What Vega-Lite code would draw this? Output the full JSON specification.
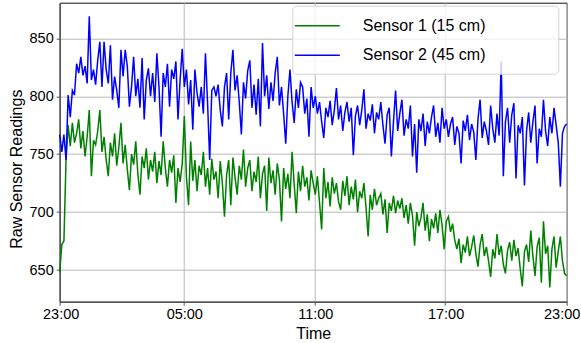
{
"$schema": "https://vega.github.io/schema/vega-lite/v6.json",
"width": 507,
"height": 299,
"autosize": {"type": "none"},
"padding": {"left": 59.7, "top": 2.7, "right": 14.3, "bottom": 41.3},
"background": "white",
"config": {"font": "Liberation Sans", "view": {"stroke": "#111", "strokeWidth": 1}},
"data": {"values": [
{"i":0,"Sensor 1 (15 cm)":648,"Sensor 2 (45 cm)":767},
{"i":1,"Sensor 1 (15 cm)":672,"Sensor 2 (45 cm)":752},
{"i":2,"Sensor 1 (15 cm)":675,"Sensor 2 (45 cm)":767},
{"i":3,"Sensor 1 (15 cm)":745,"Sensor 2 (45 cm)":745},
{"i":4,"Sensor 1 (15 cm)":775,"Sensor 2 (45 cm)":801},
{"i":5,"Sensor 1 (15 cm)":757,"Sensor 2 (45 cm)":782},
{"i":6,"Sensor 1 (15 cm)":777,"Sensor 2 (45 cm)":805},
{"i":7,"Sensor 1 (15 cm)":760,"Sensor 2 (45 cm)":801},
{"i":8,"Sensor 1 (15 cm)":768,"Sensor 2 (45 cm)":828},
{"i":9,"Sensor 1 (15 cm)":780,"Sensor 2 (45 cm)":820},
{"i":10,"Sensor 1 (15 cm)":755,"Sensor 2 (45 cm)":834},
{"i":11,"Sensor 1 (15 cm)":770,"Sensor 2 (45 cm)":818},
{"i":12,"Sensor 1 (15 cm)":748,"Sensor 2 (45 cm)":826},
{"i":13,"Sensor 1 (15 cm)":765,"Sensor 2 (45 cm)":811},
{"i":14,"Sensor 1 (15 cm)":788,"Sensor 2 (45 cm)":869},
{"i":15,"Sensor 1 (15 cm)":731,"Sensor 2 (45 cm)":814},
{"i":16,"Sensor 1 (15 cm)":762,"Sensor 2 (45 cm)":823},
{"i":17,"Sensor 1 (15 cm)":758,"Sensor 2 (45 cm)":810},
{"i":18,"Sensor 1 (15 cm)":770,"Sensor 2 (45 cm)":831},
{"i":19,"Sensor 1 (15 cm)":788,"Sensor 2 (45 cm)":847},
{"i":20,"Sensor 1 (15 cm)":752,"Sensor 2 (45 cm)":808},
{"i":21,"Sensor 1 (15 cm)":765,"Sensor 2 (45 cm)":847},
{"i":22,"Sensor 1 (15 cm)":745,"Sensor 2 (45 cm)":823},
{"i":23,"Sensor 1 (15 cm)":731,"Sensor 2 (45 cm)":811},
{"i":24,"Sensor 1 (15 cm)":760,"Sensor 2 (45 cm)":844},
{"i":25,"Sensor 1 (15 cm)":748,"Sensor 2 (45 cm)":797},
{"i":26,"Sensor 1 (15 cm)":768,"Sensor 2 (45 cm)":817},
{"i":27,"Sensor 1 (15 cm)":740,"Sensor 2 (45 cm)":805},
{"i":28,"Sensor 1 (15 cm)":756,"Sensor 2 (45 cm)":790},
{"i":29,"Sensor 1 (15 cm)":777,"Sensor 2 (45 cm)":840},
{"i":30,"Sensor 1 (15 cm)":742,"Sensor 2 (45 cm)":817},
{"i":31,"Sensor 1 (15 cm)":758,"Sensor 2 (45 cm)":840},
{"i":32,"Sensor 1 (15 cm)":737,"Sensor 2 (45 cm)":826},
{"i":33,"Sensor 1 (15 cm)":719,"Sensor 2 (45 cm)":791},
{"i":34,"Sensor 1 (15 cm)":750,"Sensor 2 (45 cm)":808},
{"i":35,"Sensor 1 (15 cm)":741,"Sensor 2 (45 cm)":834},
{"i":36,"Sensor 1 (15 cm)":761,"Sensor 2 (45 cm)":800},
{"i":37,"Sensor 1 (15 cm)":733,"Sensor 2 (45 cm)":815},
{"i":38,"Sensor 1 (15 cm)":715,"Sensor 2 (45 cm)":790},
{"i":39,"Sensor 1 (15 cm)":748,"Sensor 2 (45 cm)":833},
{"i":40,"Sensor 1 (15 cm)":738,"Sensor 2 (45 cm)":780},
{"i":41,"Sensor 1 (15 cm)":755,"Sensor 2 (45 cm)":814},
{"i":42,"Sensor 1 (15 cm)":728,"Sensor 2 (45 cm)":824},
{"i":43,"Sensor 1 (15 cm)":745,"Sensor 2 (45 cm)":800},
{"i":44,"Sensor 1 (15 cm)":735,"Sensor 2 (45 cm)":820},
{"i":45,"Sensor 1 (15 cm)":752,"Sensor 2 (45 cm)":795},
{"i":46,"Sensor 1 (15 cm)":725,"Sensor 2 (45 cm)":837},
{"i":47,"Sensor 1 (15 cm)":744,"Sensor 2 (45 cm)":808},
{"i":48,"Sensor 1 (15 cm)":732,"Sensor 2 (45 cm)":765},
{"i":49,"Sensor 1 (15 cm)":761,"Sensor 2 (45 cm)":820},
{"i":50,"Sensor 1 (15 cm)":738,"Sensor 2 (45 cm)":808},
{"i":51,"Sensor 1 (15 cm)":722,"Sensor 2 (45 cm)":828},
{"i":52,"Sensor 1 (15 cm)":745,"Sensor 2 (45 cm)":791},
{"i":53,"Sensor 1 (15 cm)":734,"Sensor 2 (45 cm)":823},
{"i":54,"Sensor 1 (15 cm)":749,"Sensor 2 (45 cm)":815},
{"i":55,"Sensor 1 (15 cm)":708,"Sensor 2 (45 cm)":830},
{"i":56,"Sensor 1 (15 cm)":738,"Sensor 2 (45 cm)":780},
{"i":57,"Sensor 1 (15 cm)":726,"Sensor 2 (45 cm)":814},
{"i":58,"Sensor 1 (15 cm)":742,"Sensor 2 (45 cm)":841},
{"i":59,"Sensor 1 (15 cm)":783,"Sensor 2 (45 cm)":808},
{"i":60,"Sensor 1 (15 cm)":730,"Sensor 2 (45 cm)":823},
{"i":61,"Sensor 1 (15 cm)":706,"Sensor 2 (45 cm)":793},
{"i":62,"Sensor 1 (15 cm)":761,"Sensor 2 (45 cm)":814},
{"i":63,"Sensor 1 (15 cm)":727,"Sensor 2 (45 cm)":771},
{"i":64,"Sensor 1 (15 cm)":745,"Sensor 2 (45 cm)":823},
{"i":65,"Sensor 1 (15 cm)":718,"Sensor 2 (45 cm)":803},
{"i":66,"Sensor 1 (15 cm)":740,"Sensor 2 (45 cm)":791},
{"i":67,"Sensor 1 (15 cm)":732,"Sensor 2 (45 cm)":808},
{"i":68,"Sensor 1 (15 cm)":752,"Sensor 2 (45 cm)":785},
{"i":69,"Sensor 1 (15 cm)":722,"Sensor 2 (45 cm)":837},
{"i":70,"Sensor 1 (15 cm)":738,"Sensor 2 (45 cm)":794},
{"i":71,"Sensor 1 (15 cm)":715,"Sensor 2 (45 cm)":745},
{"i":72,"Sensor 1 (15 cm)":746,"Sensor 2 (45 cm)":805},
{"i":73,"Sensor 1 (15 cm)":728,"Sensor 2 (45 cm)":808},
{"i":74,"Sensor 1 (15 cm)":735,"Sensor 2 (45 cm)":800},
{"i":75,"Sensor 1 (15 cm)":712,"Sensor 2 (45 cm)":810},
{"i":76,"Sensor 1 (15 cm)":744,"Sensor 2 (45 cm)":788},
{"i":77,"Sensor 1 (15 cm)":725,"Sensor 2 (45 cm)":774},
{"i":78,"Sensor 1 (15 cm)":696,"Sensor 2 (45 cm)":808},
{"i":79,"Sensor 1 (15 cm)":732,"Sensor 2 (45 cm)":820},
{"i":80,"Sensor 1 (15 cm)":745,"Sensor 2 (45 cm)":780},
{"i":81,"Sensor 1 (15 cm)":706,"Sensor 2 (45 cm)":820},
{"i":82,"Sensor 1 (15 cm)":747,"Sensor 2 (45 cm)":840},
{"i":83,"Sensor 1 (15 cm)":730,"Sensor 2 (45 cm)":805},
{"i":84,"Sensor 1 (15 cm)":715,"Sensor 2 (45 cm)":818},
{"i":85,"Sensor 1 (15 cm)":740,"Sensor 2 (45 cm)":795},
{"i":86,"Sensor 1 (15 cm)":728,"Sensor 2 (45 cm)":767},
{"i":87,"Sensor 1 (15 cm)":754,"Sensor 2 (45 cm)":812},
{"i":88,"Sensor 1 (15 cm)":722,"Sensor 2 (45 cm)":798},
{"i":89,"Sensor 1 (15 cm)":738,"Sensor 2 (45 cm)":822},
{"i":90,"Sensor 1 (15 cm)":745,"Sensor 2 (45 cm)":831},
{"i":91,"Sensor 1 (15 cm)":718,"Sensor 2 (45 cm)":790},
{"i":92,"Sensor 1 (15 cm)":735,"Sensor 2 (45 cm)":810},
{"i":93,"Sensor 1 (15 cm)":726,"Sensor 2 (45 cm)":784},
{"i":94,"Sensor 1 (15 cm)":748,"Sensor 2 (45 cm)":815},
{"i":95,"Sensor 1 (15 cm)":712,"Sensor 2 (45 cm)":774},
{"i":96,"Sensor 1 (15 cm)":733,"Sensor 2 (45 cm)":846},
{"i":97,"Sensor 1 (15 cm)":740,"Sensor 2 (45 cm)":800},
{"i":98,"Sensor 1 (15 cm)":701,"Sensor 2 (45 cm)":818},
{"i":99,"Sensor 1 (15 cm)":747,"Sensor 2 (45 cm)":789},
{"i":100,"Sensor 1 (15 cm)":725,"Sensor 2 (45 cm)":812},
{"i":101,"Sensor 1 (15 cm)":736,"Sensor 2 (45 cm)":796},
{"i":102,"Sensor 1 (15 cm)":715,"Sensor 2 (45 cm)":820},
{"i":103,"Sensor 1 (15 cm)":742,"Sensor 2 (45 cm)":834},
{"i":104,"Sensor 1 (15 cm)":728,"Sensor 2 (45 cm)":792},
{"i":105,"Sensor 1 (15 cm)":692,"Sensor 2 (45 cm)":808},
{"i":106,"Sensor 1 (15 cm)":738,"Sensor 2 (45 cm)":785},
{"i":107,"Sensor 1 (15 cm)":720,"Sensor 2 (45 cm)":759},
{"i":108,"Sensor 1 (15 cm)":733,"Sensor 2 (45 cm)":800},
{"i":109,"Sensor 1 (15 cm)":712,"Sensor 2 (45 cm)":823},
{"i":110,"Sensor 1 (15 cm)":752,"Sensor 2 (45 cm)":795},
{"i":111,"Sensor 1 (15 cm)":724,"Sensor 2 (45 cm)":777},
{"i":112,"Sensor 1 (15 cm)":699,"Sensor 2 (45 cm)":806},
{"i":113,"Sensor 1 (15 cm)":735,"Sensor 2 (45 cm)":790},
{"i":114,"Sensor 1 (15 cm)":718,"Sensor 2 (45 cm)":812},
{"i":115,"Sensor 1 (15 cm)":740,"Sensor 2 (45 cm)":808},
{"i":116,"Sensor 1 (15 cm)":722,"Sensor 2 (45 cm)":785},
{"i":117,"Sensor 1 (15 cm)":730,"Sensor 2 (45 cm)":798},
{"i":118,"Sensor 1 (15 cm)":710,"Sensor 2 (45 cm)":765},
{"i":119,"Sensor 1 (15 cm)":736,"Sensor 2 (45 cm)":808},
{"i":120,"Sensor 1 (15 cm)":725,"Sensor 2 (45 cm)":790},
{"i":121,"Sensor 1 (15 cm)":715,"Sensor 2 (45 cm)":800},
{"i":122,"Sensor 1 (15 cm)":731,"Sensor 2 (45 cm)":785},
{"i":123,"Sensor 1 (15 cm)":708,"Sensor 2 (45 cm)":795},
{"i":124,"Sensor 1 (15 cm)":685,"Sensor 2 (45 cm)":778},
{"i":125,"Sensor 1 (15 cm)":738,"Sensor 2 (45 cm)":764},
{"i":126,"Sensor 1 (15 cm)":712,"Sensor 2 (45 cm)":790},
{"i":127,"Sensor 1 (15 cm)":726,"Sensor 2 (45 cm)":782},
{"i":128,"Sensor 1 (15 cm)":705,"Sensor 2 (45 cm)":796},
{"i":129,"Sensor 1 (15 cm)":730,"Sensor 2 (45 cm)":775},
{"i":130,"Sensor 1 (15 cm)":716,"Sensor 2 (45 cm)":788},
{"i":131,"Sensor 1 (15 cm)":725,"Sensor 2 (45 cm)":807},
{"i":132,"Sensor 1 (15 cm)":709,"Sensor 2 (45 cm)":780},
{"i":133,"Sensor 1 (15 cm)":702,"Sensor 2 (45 cm)":792},
{"i":134,"Sensor 1 (15 cm)":727,"Sensor 2 (45 cm)":770},
{"i":135,"Sensor 1 (15 cm)":714,"Sensor 2 (45 cm)":786},
{"i":136,"Sensor 1 (15 cm)":731,"Sensor 2 (45 cm)":795},
{"i":137,"Sensor 1 (15 cm)":706,"Sensor 2 (45 cm)":778},
{"i":138,"Sensor 1 (15 cm)":722,"Sensor 2 (45 cm)":790},
{"i":139,"Sensor 1 (15 cm)":711,"Sensor 2 (45 cm)":749},
{"i":140,"Sensor 1 (15 cm)":728,"Sensor 2 (45 cm)":783},
{"i":141,"Sensor 1 (15 cm)":700,"Sensor 2 (45 cm)":792},
{"i":142,"Sensor 1 (15 cm)":718,"Sensor 2 (45 cm)":775},
{"i":143,"Sensor 1 (15 cm)":712,"Sensor 2 (45 cm)":788},
{"i":144,"Sensor 1 (15 cm)":725,"Sensor 2 (45 cm)":806},
{"i":145,"Sensor 1 (15 cm)":704,"Sensor 2 (45 cm)":772},
{"i":146,"Sensor 1 (15 cm)":679,"Sensor 2 (45 cm)":785},
{"i":147,"Sensor 1 (15 cm)":715,"Sensor 2 (45 cm)":779},
{"i":148,"Sensor 1 (15 cm)":702,"Sensor 2 (45 cm)":793},
{"i":149,"Sensor 1 (15 cm)":720,"Sensor 2 (45 cm)":768},
{"i":150,"Sensor 1 (15 cm)":706,"Sensor 2 (45 cm)":786},
{"i":151,"Sensor 1 (15 cm)":712,"Sensor 2 (45 cm)":780},
{"i":152,"Sensor 1 (15 cm)":716,"Sensor 2 (45 cm)":795},
{"i":153,"Sensor 1 (15 cm)":698,"Sensor 2 (45 cm)":775},
{"i":154,"Sensor 1 (15 cm)":711,"Sensor 2 (45 cm)":759},
{"i":155,"Sensor 1 (15 cm)":682,"Sensor 2 (45 cm)":784},
{"i":156,"Sensor 1 (15 cm)":708,"Sensor 2 (45 cm)":790},
{"i":157,"Sensor 1 (15 cm)":701,"Sensor 2 (45 cm)":748},
{"i":158,"Sensor 1 (15 cm)":714,"Sensor 2 (45 cm)":778},
{"i":159,"Sensor 1 (15 cm)":699,"Sensor 2 (45 cm)":805},
{"i":160,"Sensor 1 (15 cm)":710,"Sensor 2 (45 cm)":770},
{"i":161,"Sensor 1 (15 cm)":703,"Sensor 2 (45 cm)":785},
{"i":162,"Sensor 1 (15 cm)":712,"Sensor 2 (45 cm)":797},
{"i":163,"Sensor 1 (15 cm)":695,"Sensor 2 (45 cm)":766},
{"i":164,"Sensor 1 (15 cm)":706,"Sensor 2 (45 cm)":780},
{"i":165,"Sensor 1 (15 cm)":690,"Sensor 2 (45 cm)":772},
{"i":166,"Sensor 1 (15 cm)":708,"Sensor 2 (45 cm)":792},
{"i":167,"Sensor 1 (15 cm)":697,"Sensor 2 (45 cm)":748},
{"i":168,"Sensor 1 (15 cm)":671,"Sensor 2 (45 cm)":776},
{"i":169,"Sensor 1 (15 cm)":700,"Sensor 2 (45 cm)":734},
{"i":170,"Sensor 1 (15 cm)":688,"Sensor 2 (45 cm)":780},
{"i":171,"Sensor 1 (15 cm)":695,"Sensor 2 (45 cm)":770},
{"i":172,"Sensor 1 (15 cm)":708,"Sensor 2 (45 cm)":785},
{"i":173,"Sensor 1 (15 cm)":684,"Sensor 2 (45 cm)":757},
{"i":174,"Sensor 1 (15 cm)":698,"Sensor 2 (45 cm)":778},
{"i":175,"Sensor 1 (15 cm)":675,"Sensor 2 (45 cm)":768},
{"i":176,"Sensor 1 (15 cm)":694,"Sensor 2 (45 cm)":782},
{"i":177,"Sensor 1 (15 cm)":686,"Sensor 2 (45 cm)":792},
{"i":178,"Sensor 1 (15 cm)":699,"Sensor 2 (45 cm)":765},
{"i":179,"Sensor 1 (15 cm)":682,"Sensor 2 (45 cm)":777},
{"i":180,"Sensor 1 (15 cm)":702,"Sensor 2 (45 cm)":760},
{"i":181,"Sensor 1 (15 cm)":689,"Sensor 2 (45 cm)":790},
{"i":182,"Sensor 1 (15 cm)":668,"Sensor 2 (45 cm)":772},
{"i":183,"Sensor 1 (15 cm)":692,"Sensor 2 (45 cm)":780},
{"i":184,"Sensor 1 (15 cm)":696,"Sensor 2 (45 cm)":765},
{"i":185,"Sensor 1 (15 cm)":683,"Sensor 2 (45 cm)":776},
{"i":186,"Sensor 1 (15 cm)":690,"Sensor 2 (45 cm)":782},
{"i":187,"Sensor 1 (15 cm)":676,"Sensor 2 (45 cm)":758},
{"i":188,"Sensor 1 (15 cm)":668,"Sensor 2 (45 cm)":774},
{"i":189,"Sensor 1 (15 cm)":677,"Sensor 2 (45 cm)":768},
{"i":190,"Sensor 1 (15 cm)":656,"Sensor 2 (45 cm)":742},
{"i":191,"Sensor 1 (15 cm)":672,"Sensor 2 (45 cm)":779},
{"i":192,"Sensor 1 (15 cm)":665,"Sensor 2 (45 cm)":770},
{"i":193,"Sensor 1 (15 cm)":679,"Sensor 2 (45 cm)":784},
{"i":194,"Sensor 1 (15 cm)":662,"Sensor 2 (45 cm)":762},
{"i":195,"Sensor 1 (15 cm)":670,"Sensor 2 (45 cm)":776},
{"i":196,"Sensor 1 (15 cm)":680,"Sensor 2 (45 cm)":769},
{"i":197,"Sensor 1 (15 cm)":664,"Sensor 2 (45 cm)":745},
{"i":198,"Sensor 1 (15 cm)":653,"Sensor 2 (45 cm)":780},
{"i":199,"Sensor 1 (15 cm)":672,"Sensor 2 (45 cm)":797},
{"i":200,"Sensor 1 (15 cm)":681,"Sensor 2 (45 cm)":764},
{"i":201,"Sensor 1 (15 cm)":662,"Sensor 2 (45 cm)":778},
{"i":202,"Sensor 1 (15 cm)":670,"Sensor 2 (45 cm)":770},
{"i":203,"Sensor 1 (15 cm)":658,"Sensor 2 (45 cm)":758},
{"i":204,"Sensor 1 (15 cm)":644,"Sensor 2 (45 cm)":792},
{"i":205,"Sensor 1 (15 cm)":668,"Sensor 2 (45 cm)":772},
{"i":206,"Sensor 1 (15 cm)":660,"Sensor 2 (45 cm)":760},
{"i":207,"Sensor 1 (15 cm)":681,"Sensor 2 (45 cm)":785},
{"i":208,"Sensor 1 (15 cm)":663,"Sensor 2 (45 cm)":766},
{"i":209,"Sensor 1 (15 cm)":671,"Sensor 2 (45 cm)":830},
{"i":210,"Sensor 1 (15 cm)":655,"Sensor 2 (45 cm)":731},
{"i":211,"Sensor 1 (15 cm)":647,"Sensor 2 (45 cm)":778},
{"i":212,"Sensor 1 (15 cm)":667,"Sensor 2 (45 cm)":790},
{"i":213,"Sensor 1 (15 cm)":674,"Sensor 2 (45 cm)":760},
{"i":214,"Sensor 1 (15 cm)":658,"Sensor 2 (45 cm)":784},
{"i":215,"Sensor 1 (15 cm)":676,"Sensor 2 (45 cm)":794},
{"i":216,"Sensor 1 (15 cm)":662,"Sensor 2 (45 cm)":729},
{"i":217,"Sensor 1 (15 cm)":669,"Sensor 2 (45 cm)":775},
{"i":218,"Sensor 1 (15 cm)":651,"Sensor 2 (45 cm)":768},
{"i":219,"Sensor 1 (15 cm)":636,"Sensor 2 (45 cm)":782},
{"i":220,"Sensor 1 (15 cm)":666,"Sensor 2 (45 cm)":723},
{"i":221,"Sensor 1 (15 cm)":672,"Sensor 2 (45 cm)":770},
{"i":222,"Sensor 1 (15 cm)":657,"Sensor 2 (45 cm)":786},
{"i":223,"Sensor 1 (15 cm)":684,"Sensor 2 (45 cm)":760},
{"i":224,"Sensor 1 (15 cm)":662,"Sensor 2 (45 cm)":778},
{"i":225,"Sensor 1 (15 cm)":645,"Sensor 2 (45 cm)":792},
{"i":226,"Sensor 1 (15 cm)":670,"Sensor 2 (45 cm)":742},
{"i":227,"Sensor 1 (15 cm)":678,"Sensor 2 (45 cm)":772},
{"i":228,"Sensor 1 (15 cm)":639,"Sensor 2 (45 cm)":765},
{"i":229,"Sensor 1 (15 cm)":692,"Sensor 2 (45 cm)":797},
{"i":230,"Sensor 1 (15 cm)":664,"Sensor 2 (45 cm)":770},
{"i":231,"Sensor 1 (15 cm)":671,"Sensor 2 (45 cm)":757},
{"i":232,"Sensor 1 (15 cm)":635,"Sensor 2 (45 cm)":782},
{"i":233,"Sensor 1 (15 cm)":668,"Sensor 2 (45 cm)":768},
{"i":234,"Sensor 1 (15 cm)":679,"Sensor 2 (45 cm)":790},
{"i":235,"Sensor 1 (15 cm)":652,"Sensor 2 (45 cm)":775},
{"i":236,"Sensor 1 (15 cm)":666,"Sensor 2 (45 cm)":760},
{"i":237,"Sensor 1 (15 cm)":679,"Sensor 2 (45 cm)":722},
{"i":238,"Sensor 1 (15 cm)":658,"Sensor 2 (45 cm)":768},
{"i":239,"Sensor 1 (15 cm)":647,"Sensor 2 (45 cm)":774},
{"i":240,"Sensor 1 (15 cm)":645,"Sensor 2 (45 cm)":776}
]},
"transform": [{"fold": ["Sensor 1 (15 cm)", "Sensor 2 (45 cm)"], "as": ["series", "value"]}],
"mark": {"type": "line", "strokeWidth": 1.5},
"encoding": {
  "x": {"field": "i", "type": "quantitative",
    "scale": {"domain": [0, 240], "nice": false, "zero": false},
    "axis": {"title": "Time", "values": [0, 58.5, 120.5, 182.2, 240], "labelFlush": false,
      "labelExpr": "datum.value < 1 ? '23:00' : datum.value < 60 ? '05:00' : datum.value < 121 ? '11:00' : datum.value < 183 ? '17:00' : '23:00'",
      "labelOffset": {"condition": {"test": "datum.value > 200", "value": -5}, "value": 1},
      "grid": true, "gridColor": "#b8b8b8", "gridWidth": 1,
      "domainColor": "#555", "domainWidth": 1.5, "tickColor": "#555", "tickSize": 3.5, "tickWidth": 1,
      "labelFont": "Liberation Sans", "labelFontSize": 14.5, "labelColor": "#000", "labelPadding": 2,
      "titleFont": "Liberation Sans", "titleFontSize": 16, "titleFontWeight": "normal", "titleColor": "#000", "titlePadding": 5}},
  "y": {"field": "value", "type": "quantitative",
    "scale": {"domain": [622.7, 880.7], "nice": false, "zero": false},
    "axis": {"title": "Raw Sensor Readings", "values": [650, 700, 750, 800, 850],
      "grid": true, "gridColor": "#b8b8b8", "gridWidth": 1,
      "domainColor": "#555", "domainWidth": 1.5, "tickColor": "#555", "tickSize": 3.5, "tickWidth": 1,
      "labelFont": "Liberation Sans", "labelFontSize": 14.5, "labelColor": "#000", "labelPadding": 3,
      "titleFont": "Liberation Sans", "titleFontSize": 16, "titleFontWeight": "normal", "titleColor": "#000",
      "titleX": -38, "titleY": 166, "titleAngle": -90, "titleAlign": "center", "titleBaseline": "alphabetic"}},
  "color": {"field": "series", "type": "nominal",
    "scale": {"domain": ["Sensor 1 (15 cm)", "Sensor 2 (45 cm)"], "range": ["#008000", "#0000ff"]},
    "legend": {"title": null, "orient": "none", "legendX": 232.6, "legendY": 3,
      "fillColor": "rgba(255,255,255,0.8)", "strokeColor": "#d4d4d4", "cornerRadius": 4, "padding": 10,
      "symbolType": "M-2.5,0H2.5", "symbolSize": 324, "symbolStrokeWidth": 1.5, "symbolOffset": 5,
      "rowPadding": 11.5, "labelOffset": 35.5, "labelLimit": 400,
      "labelFont": "Liberation Sans", "labelFontSize": 16, "labelColor": "#000",
      "labelExpr": "datum.label + '\u00a0\u00a0\u00a0\u00a0\u00a0\u00a0\u00a0\u00a0\u00a0\u00a0\u00a0\u00a0\u00a0\u00a0\u200b'"}}
}
}
